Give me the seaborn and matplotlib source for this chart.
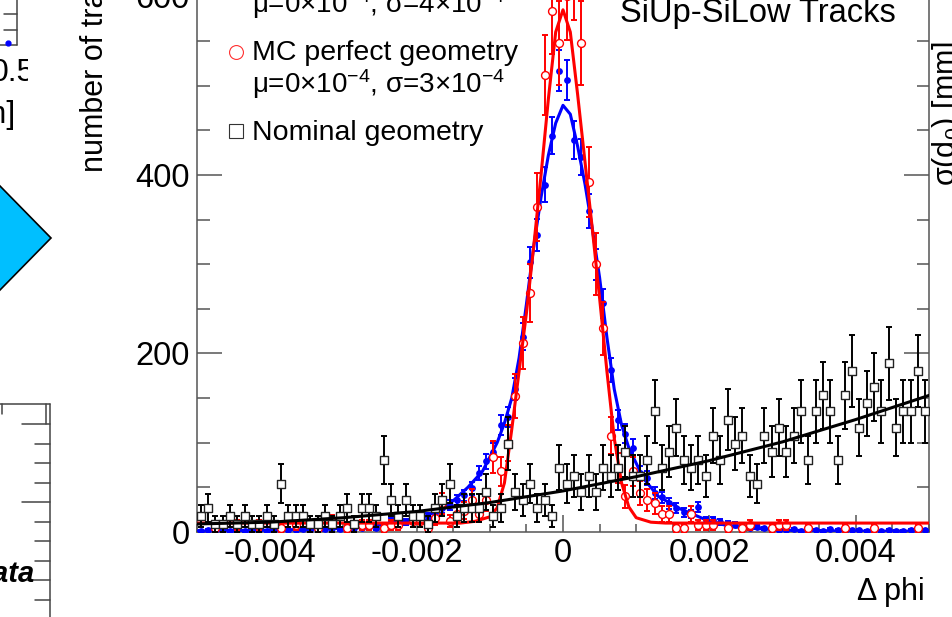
import numpy as np
import matplotlib
matplotlib.use("Agg")
import matplotlib.pyplot as plt
from matplotlib.lines import Line2D
from matplotlib.patches import Polygon
from matplotlib.transforms import Bbox, TransformedBbox
from matplotlib.ticker import FixedLocator, MultipleLocator
import seaborn as sns

sns.set_theme(style="ticks")
plt.rcParams["font.family"] = ["Liberation Sans", "DejaVu Sans"]
plt.rcParams["mathtext.fontset"] = "custom"
plt.rcParams["mathtext.rm"] = "Liberation Sans"
plt.rcParams["mathtext.it"] = "Liberation Sans:italic"
plt.rcParams["text.color"] = "black"
plt.rcParams["axes.labelcolor"] = "black"

# ── Histogram binning (100 bins over the delta-phi range) ──
n_bins = 100
x_lo, x_hi = -0.005, 0.005
edges = np.linspace(x_lo, x_hi, n_bins + 1)
centers = 0.5 * (edges[:-1] + edges[1:])

# ── Bin contents ──────────────────────────────────────────
blue_counts = np.array([
    1, 2, 1, 2, 1, 2, 1, 2, 2, 1,
    2, 3, 2, 2, 3, 2, 3, 3, 4, 3,
    4, 5, 4, 6, 5, 7, 12, 9, 11, 13,
    16, 17, 21, 27, 30, 36, 41, 49, 66, 79,
    90, 120, 129, 160, 219, 302, 333, 389, 444, 517,
    506, 439, 420, 360, 300, 256, 181, 126, 110, 94,
    66, 61, 44, 39, 32, 27, 22, 20, 28, 13,
    13, 11, 9, 8, 6, 4, 6, 4, 3, 2,
    2, 3, 1, 2, 2, 1, 3, 2, 1, 2,
    2, 1, 2, 1, 2, 1, 1, 2, 1, 2], dtype=float)
blue_err = np.array([
    1.0, 1.4, 1.0, 1.4, 1.0, 1.4, 1.0, 1.4, 1.4, 1.0,
    1.4, 1.7, 1.4, 1.4, 1.7, 1.4, 1.7, 1.7, 2.0, 1.7,
    2.0, 2.2, 2.0, 2.4, 2.2, 2.6, 3.5, 3.0, 3.3, 3.6,
    4.0, 4.1, 4.6, 5.2, 5.5, 6.0, 6.4, 7.0, 8.1, 8.9,
    9.5, 11.0, 11.4, 12.6, 14.8, 17.4, 18.2, 19.7, 21.1, 22.7,
    22.5, 21.0, 20.5, 19.0, 17.3, 16.0, 13.5, 11.2, 10.5, 9.7,
    8.1, 7.8, 6.6, 6.2, 5.7, 5.2, 4.7, 4.5, 5.3, 3.6,
    3.6, 3.3, 3.0, 2.8, 2.4, 2.0, 2.4, 2.0, 1.7, 1.4,
    1.4, 1.7, 1.0, 1.4, 1.4, 1.0, 1.7, 1.4, 1.0, 1.4,
    1.4, 1.0, 1.4, 1.0, 1.4, 1.0, 1.0, 1.4, 1.0, 1.4])

red_counts = np.array([
    0, 0, 4, 0, 0, 8, 0, 0, 8, 0,
    0, 4, 0, 8, 0, 0, 4, 0, 12, 0,
    4, 0, 8, 8, 0, 4, 8, 8, 0, 12,
    12, 4, 16, 32, 12, 20, 24, 36, 20, 36,
    84, 68, 100, 152, 212, 268, 364, 512, 584, 548,
    600, 624, 548, 392, 300, 228, 108, 72, 40, 68,
    44, 36, 32, 20, 20, 4, 4, 20, 8, 8,
    8, 0, 4, 0, 4, 8, 0, 0, 4, 8,
    8, 0, 0, 4, 0, 0, 0, 0, 4, 0,
    0, 0, 4, 0, 0, 0, 0, 0, 4, 0], dtype=float)
red_err = np.array([
    0, 0, 4.0, 0, 0, 5.7, 0, 0, 5.7, 0,
    0, 4.0, 0, 5.7, 0, 0, 4.0, 0, 6.9, 0,
    4.0, 0, 5.7, 5.7, 0, 4.0, 5.7, 5.7, 0, 6.9,
    6.9, 4.0, 8.0, 11.3, 6.9, 8.9, 9.8, 12.0, 8.9, 12.0,
    18.3, 16.5, 20.0, 24.7, 29.1, 32.7, 38.2, 45.3, 48.3, 46.8,
    49.0, 50.0, 46.8, 39.6, 34.6, 30.2, 20.8, 17.0, 12.6, 16.5,
    13.3, 12.0, 11.3, 8.9, 8.9, 4.0, 4.0, 8.9, 5.7, 5.7,
    5.7, 0, 4.0, 0, 4.0, 5.7, 0, 0, 4.0, 5.7,
    5.7, 0, 0, 4.0, 0, 0, 0, 0, 4.0, 0,
    0, 0, 4.0, 0, 0, 0, 0, 0, 4.0, 0])

black_counts = np.array([
    18, 27, 9, 9, 18, 9, 18, 9, 9, 18,
    9, 54, 18, 18, 18, 9, 9, 18, 9, 18,
    27, 9, 27, 27, 18, 81, 36, 18, 36, 18,
    18, 9, 27, 36, 54, 18, 27, 27, 27, 45,
    18, 27, 99, 45, 36, 54, 27, 36, 18, 72,
    54, 63, 45, 63, 45, 72, 63, 72, 90, 63,
    63, 81, 135, 72, 90, 117, 81, 72, 81, 63,
    108, 81, 126, 99, 108, 63, 54, 108, 90, 117,
    90, 108, 135, 81, 135, 153, 135, 81, 153, 180,
    117, 144, 162, 135, 189, 117, 135, 135, 180, 135], dtype=float)
black_err = np.array([
    12.7, 15.6, 9.0, 9.0, 12.7, 9.0, 12.7, 9.0, 9.0, 12.7,
    9.0, 22.0, 12.7, 12.7, 12.7, 9.0, 9.0, 12.7, 9.0, 12.7,
    15.6, 9.0, 15.6, 15.6, 12.7, 27.0, 18.0, 12.7, 18.0, 12.7,
    12.7, 9.0, 15.6, 18.0, 22.0, 12.7, 15.6, 15.6, 15.6, 20.1,
    12.7, 15.6, 29.8, 20.1, 18.0, 22.0, 15.6, 18.0, 12.7, 25.5,
    22.0, 23.8, 20.1, 23.8, 20.1, 25.5, 23.8, 25.5, 28.5, 23.8,
    23.8, 27.0, 34.9, 25.5, 28.5, 32.4, 27.0, 25.5, 27.0, 23.8,
    31.2, 27.0, 33.7, 29.8, 31.2, 23.8, 22.0, 31.2, 28.5, 32.4,
    28.5, 31.2, 34.9, 27.0, 34.9, 37.1, 34.9, 27.0, 37.1, 40.2,
    32.4, 36.0, 38.2, 34.9, 41.2, 32.4, 34.9, 34.9, 40.2, 34.9])

# ── Fit curves ────────────────────────────────────────────
red_fit_x = [-0.005, -0.0014, -0.0012, -0.001, -0.0009, -0.0008, -0.0007,
             -0.0006, -0.0005, -0.0004, -0.0003, -0.0002, -0.0001, 0.0,
             0.0001, 0.0002, 0.0003, 0.0004, 0.0005, 0.0006, 0.0007,
             0.0008, 0.0009, 0.001, 0.0012, 0.0014, 0.005]
red_fit_y = [10, 10, 12, 17, 27, 55, 115, 180, 245, 320, 400, 485, 560, 585,
             560, 490, 415, 340, 262, 180, 105, 55, 28, 16, 11, 10, 10]

blue_fit_x = [-0.005, -0.004, -0.003, -0.0025, -0.002, -0.0017, -0.0015,
              -0.0013, -0.0011, -0.0009, -0.0008, -0.0007, -0.0006, -0.0005,
              -0.0004, -0.0003, -0.0002, -0.0001, 0.0, 0.0001, 0.0002,
              0.0003, 0.0004, 0.0005, 0.0006, 0.0007, 0.0008, 0.0009,
              0.0011, 0.0013, 0.0016, 0.002, 0.0023, 0.003, 0.004, 0.005]
blue_fit_y = [1, 2, 4, 8, 14, 24, 35, 50, 68, 100, 122, 150, 195, 255, 320,
              375, 422, 458, 478, 468, 432, 390, 340, 285, 218, 160, 120, 94,
              60, 40, 26, 12, 6, 2, 1, 1]

black_fit_x = [-0.005, -0.004, -0.003, -0.002, -0.001, 0.0, 0.001, 0.002,
               0.003, 0.004, 0.005]
black_fit_y = [9, 11, 16, 23, 33, 46, 62, 80, 101, 126, 153]

x_major = [-0.004, -0.002, 0.0, 0.002, 0.004]
x_labels = ["-0.004", "-0.002", "0", "0.002", "0.004"]
y_major = [0, 200, 400, 600]

BLUE, RED, BLACK = "#0000ff", "#ff0000", "#000000"

# ── Figure (pixel helpers for the annotations) ────────────
W, H = 952, 617
fig = plt.figure(figsize=(W / 100, H / 100), dpi=100)
fig.patch.set_facecolor("white")


def fx(x):
    return x / W


def fy(y):
    return 1 - y / H


# bits of the neighbouring pads that show at the edges
deco = fig.add_axes([0, 0, 1, 1])
deco.set_xlim(0, W)
deco.set_ylim(H, 0)
deco.axis("off")
edge = "#444444"
deco.add_patch(Polygon([(-51, 238), (0, 186), (51, 238), (0, 290)],
                       closed=True, facecolor="#00bfff", edgecolor="black", lw=1.2))
deco.plot([17, 17], [0, 45], color=edge, lw=1.1)
deco.plot([0, 17], [45, 45], color=edge, lw=1.1)
for yy in (14, 30):
    deco.plot([4, 17], [yy, yy], color=edge, lw=1.1)
deco.plot([8], [43], marker="o", ms=3.5, color=BLUE)
deco.plot([0, 50], [404, 404], color=edge, lw=1.1)
deco.plot([50, 50], [404, H], color=edge, lw=1.1)
deco.plot([2, 2], [404, 414], color=edge, lw=1.1)
deco.plot([46, 46], [404, 424], color=edge, lw=1.1)
for k in range(10):
    yy = 424 + 19.5 * k
    x0 = 22 if k % 4 == 0 else 35
    deco.plot([x0, 50], [yy, yy], color=edge, lw=1.1)
clip_box = TransformedBbox(Bbox([[0, 0], [28, 140]]), deco.transData)
for s, xx, yy, ha in [("0.5", -9, 81, "left"), ("[mm]", 16, 123, "right")]:
    t = deco.text(xx, yy, s, fontsize=23, ha=ha, va="baseline")
    t.set_clip_box(clip_box)
    t.set_clip_on(True)
deco.text(35, 582, "Data", fontsize=21, fontweight="bold", fontstyle="italic",
          ha="right", va="baseline")
fig.text(fx(955), fy(186), r"σ(d$_{0}$) [mm]", fontsize=22, rotation=90,
         rotation_mode="anchor", ha="left", va="baseline")

# ── Main pad ──────────────────────────────────────────────
ax = fig.add_axes([197 / W, 85 / H, 732 / W, 607 / H])
ax.set_facecolor("none")

series = [
    (blue_counts, blue_err, blue_fit_x, blue_fit_y, BLUE,
     dict(marker="o", s=24, color=BLUE, edgecolor=BLUE, linewidth=0)),
    (np.where(red_counts > 0, red_counts, np.nan), red_err, red_fit_x, red_fit_y, RED,
     dict(marker="o", s=32, color="white", edgecolor=RED, linewidth=1.0)),
    (black_counts, black_err, black_fit_x, black_fit_y, BLACK,
     dict(marker="s", s=38, color="white", edgecolor="#222222", linewidth=1.0)),
]
z = 3
for vals, errs, fit_x, fit_y, col, mkw in series:
    ax.errorbar(centers, vals, yerr=errs, fmt="none", ecolor=col,
                elinewidth=1.4, capsize=2.2, capthick=1.4, zorder=z)
    sns.scatterplot(x=centers, y=vals, ax=ax, zorder=z + 1, **mkw)
    sns.lineplot(x=fit_x, y=fit_y, ax=ax, color=col, linewidth=2.2,
                 estimator=None, sort=False, zorder=z + 2)
    z += 3

ax.set_xlim(x_lo, x_hi)
ax.set_ylim(0, 680)
ax.xaxis.set_major_locator(FixedLocator(x_major))
ax.set_xticklabels(x_labels)
ax.xaxis.set_minor_locator(MultipleLocator(0.0005))
ax.yaxis.set_major_locator(FixedLocator(y_major))
ax.yaxis.set_minor_locator(MultipleLocator(50))

spine_col = "#555555"
for side in ("left", "right", "bottom"):
    ax.spines[side].set_color(spine_col)
    ax.spines[side].set_linewidth(1.1)
ax.spines["top"].set_visible(False)
ax.tick_params(axis="both", which="both", direction="in", color=spine_col,
               width=1.1, labelcolor="black")
ax.tick_params(axis="y", which="both", left=True, right=True)
ax.tick_params(axis="y", which="major", length=18, pad=5, labelsize=23.5)
ax.tick_params(axis="y", which="minor", length=9)
ax.tick_params(axis="x", which="major", length=12, pad=4, labelsize=23.5)
ax.tick_params(axis="x", which="minor", length=6)

ax.set_xlabel("Δ phi", fontsize=22)
ax.xaxis.label.set_ha("right")
ax.xaxis.label.set_va("baseline")
ax.xaxis.set_label_coords(0.9945, -0.112)
ax.set_ylabel("number of tracks", fontsize=22)
ax.yaxis.label.set_ha("left")
ax.yaxis.set_label_coords(-0.119, 0.593)

# ── Legend and title drawn as in the original pad ─────────
fig.text(fx(620), fy(22), "SiUp-SiLow Tracks", fontsize=23.5, va="baseline")
fig.text(fx(252), fy(13), "μ=0×10$^{-4}$, σ=4×10$^{-4}$", fontsize=20, va="baseline")
fig.text(fx(252), fy(60), "MC perfect geometry", fontsize=20.5, va="baseline")
fig.text(fx(252), fy(93), "μ=0×10$^{-4}$, σ=3×10$^{-4}$", fontsize=20, va="baseline")
fig.text(fx(252), fy(140), "Nominal geometry", fontsize=20.5, va="baseline")
fig.add_artist(Line2D([fx(236)], [fy(52)], marker="o", ms=10, mfc="none",
                      mec="#ff3030", mew=0.8, transform=fig.transFigure))
fig.add_artist(Line2D([fx(236)], [fy(131)], marker="s", ms=9.5, mfc="none",
                      mec="#333333", mew=0.8, transform=fig.transFigure))

fig.savefig("out.png", dpi=100, facecolor="white")
